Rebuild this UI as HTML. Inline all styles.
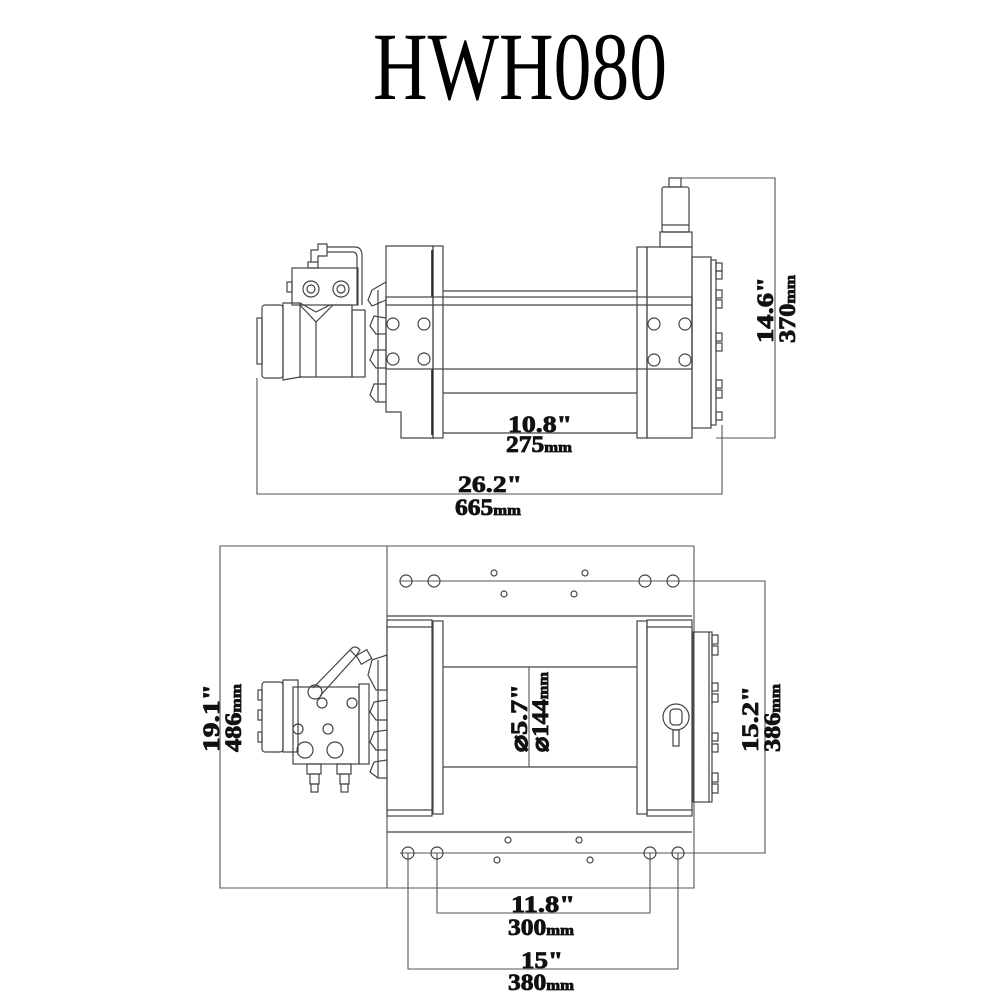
<!DOCTYPE html>
<html><head><meta charset="utf-8"><style>
html,body{margin:0;padding:0;background:#fff}
svg{display:block}
.l{fill:none;stroke:#444;stroke-width:1.2}
.t{stroke:#222;stroke-width:1.6;fill:none}
.d{fill:none;stroke:#555;stroke-width:1.1}
.b{font-family:"Liberation Serif",serif;font-weight:bold;fill:#111;stroke:#111;stroke-width:0.8}
</style></head><body>
<svg width="1000" height="1000" viewBox="0 0 1000 1000" xmlns="http://www.w3.org/2000/svg">
<text x="373" y="99" font-family="Liberation Serif,serif" font-size="96" textLength="294" lengthAdjust="spacingAndGlyphs" fill="#000">HWH080</text>

<!-- ===== TOP VIEW ===== -->
<g class="l">
<rect x="669" y="178" width="12" height="9"/>
<rect x="662" y="187" width="27" height="45" rx="2"/>
<line x1="662" y1="225" x2="689" y2="225"/>
<rect x="660" y="232" width="32" height="15"/>
<path d="M386 246 H433 V438 H401 V412 H386 Z"/>
<rect x="433" y="246" width="10" height="192"/>
<line x1="432" y1="250" x2="432" y2="297" class="t"/>
<line x1="432" y1="369" x2="432" y2="435" class="t"/>
<rect x="637" y="247" width="10" height="191"/>
<rect x="647" y="247" width="45" height="191"/>
<rect x="692" y="257" width="19" height="171"/>
<rect x="711" y="260" width="5" height="165"/>
<line x1="443" y1="291" x2="637" y2="291"/>
<line x1="443" y1="393" x2="637" y2="393"/>
<line x1="443" y1="433" x2="637" y2="433"/>
<rect x="386" y="297" width="306" height="72"/>
<line x1="386" y1="305" x2="692" y2="305"/>
<circle cx="393" cy="324" r="6"/><circle cx="424" cy="324" r="6"/>
<circle cx="393" cy="359" r="6"/><circle cx="424" cy="359" r="6"/>
<circle cx="654" cy="324" r="6"/><circle cx="685" cy="324" r="6"/>
<circle cx="654" cy="360" r="6"/><circle cx="685" cy="360" r="6"/>
<rect x="716" y="263" width="6" height="8"/><rect x="716" y="271" width="6" height="8"/>
<rect x="716" y="290" width="6" height="8"/><rect x="716" y="300" width="6" height="8"/>
<rect x="716" y="333" width="6" height="8"/><rect x="716" y="343" width="6" height="8"/>
<rect x="716" y="380" width="6" height="8"/><rect x="716" y="390" width="6" height="8"/>
<rect x="716" y="412" width="6" height="8"/>
<path d="M386 282 L372 290 L368 300 L372 306 L386 300"/>
<path d="M386 318 L374 316 L370 326 L376 334 L386 334"/>
<path d="M386 350 L374 350 L370 360 L376 368 L386 368"/>
<path d="M386 384 L374 384 L370 395 L376 402 L386 402"/>
<line x1="378" y1="290" x2="378" y2="402"/>
<rect x="262" y="305" width="21" height="73" rx="3"/>
<rect x="257" y="318" width="5" height="46"/>
<path d="M283 303 H300 L316 312 L330 305 H352 V377 H300 L283 380 Z"/>
<line x1="300" y1="303" x2="300" y2="378"/>
<path d="M300 305 L316 322 L333 305"/>
<line x1="316" y1="322" x2="316" y2="377"/>
<rect x="352" y="310" width="13" height="67"/>
<rect x="292" y="268" width="66" height="37"/>
<rect x="287" y="282" width="5" height="10"/>
<circle cx="311" cy="289" r="8"/><circle cx="311" cy="289" r="4"/>
<circle cx="341" cy="289" r="8"/><circle cx="341" cy="289" r="4"/>
<rect x="308" y="262" width="10" height="6"/>
<path d="M311 262 V250 H318 V244 H327 V256 H318 V262"/>
<path d="M327 247 H355 Q362 247 362 256 V305"/>
<path d="M327 252 H353 Q357 252 357 258 V305"/>
</g>
<g class="d">
<path d="M681 178 H775 V438 H716"/>
<path d="M257 378 V494 H722 V425"/>
</g>
<text class="b" x="508" y="432" font-size="23" textLength="64" lengthAdjust="spacingAndGlyphs">10.8"</text>
<text class="b" x="506" y="452" font-size="23" textLength="66" lengthAdjust="spacingAndGlyphs">275<tspan font-size="15">mm</tspan></text>
<text class="b" x="458" y="492" font-size="23" textLength="64" lengthAdjust="spacingAndGlyphs">26.2"</text>
<text class="b" x="455" y="515" font-size="23" textLength="66" lengthAdjust="spacingAndGlyphs">665<tspan font-size="15">mm</tspan></text>
<text class="b" font-size="23" transform="translate(773,343) rotate(-90)" textLength="66" lengthAdjust="spacingAndGlyphs">14.6"</text>
<text class="b" font-size="23" transform="translate(795,343) rotate(-90)" textLength="68" lengthAdjust="spacingAndGlyphs">370<tspan font-size="15">mm</tspan></text>

<!-- ===== BOTTOM VIEW ===== -->
<g class="d">
<path d="M220 546 H694 V888 H220 Z"/>
<line x1="387" y1="546" x2="387" y2="888"/>
<path d="M400 581 H765 V853 H400"/>
<path d="M408 853 V969 H678 V853"/>
<path d="M437 853 V913 H650 V853"/>
<line x1="529" y1="667" x2="529" y2="767"/>
</g>
<g class="l">
<line x1="387" y1="616" x2="692" y2="616"/>
<line x1="387" y1="832" x2="692" y2="832"/>
<circle cx="406" cy="581" r="6"/><circle cx="434" cy="581" r="6"/>
<circle cx="645" cy="581" r="6"/><circle cx="673" cy="581" r="6"/>
<circle cx="494" cy="573" r="3"/><circle cx="585" cy="573" r="3"/>
<circle cx="504" cy="594" r="3"/><circle cx="574" cy="594" r="3"/>
<circle cx="408" cy="853" r="6"/><circle cx="437" cy="853" r="6"/>
<circle cx="650" cy="853" r="6"/><circle cx="678" cy="853" r="6"/>
<circle cx="508" cy="840" r="3"/><circle cx="579" cy="840" r="3"/>
<circle cx="497" cy="860" r="3"/><circle cx="590" cy="860" r="3"/>
<rect x="387" y="620" width="45" height="196"/>
<line x1="387" y1="627" x2="432" y2="627"/>
<line x1="387" y1="810" x2="432" y2="810"/>
<rect x="433" y="621" width="10" height="193"/>
<rect x="637" y="621" width="10" height="193"/>
<rect x="647" y="620" width="45" height="196"/>
<line x1="647" y1="627" x2="692" y2="627"/>
<line x1="647" y1="810" x2="692" y2="810"/>
<line x1="443" y1="667" x2="637" y2="667"/>
<line x1="443" y1="767" x2="637" y2="767"/>
<rect x="693" y="632" width="19" height="170"/>
<line x1="709" y1="632" x2="709" y2="802"/>
<rect x="712" y="635" width="6" height="9"/><rect x="712" y="646" width="6" height="9"/>
<rect x="712" y="683" width="6" height="8"/><rect x="712" y="694" width="6" height="8"/>
<rect x="712" y="733" width="6" height="8"/><rect x="712" y="744" width="6" height="8"/>
<rect x="712" y="773" width="6" height="9"/><rect x="712" y="784" width="6" height="9"/>
<circle cx="676" cy="717" r="13"/><rect x="670" y="709" width="12" height="16" rx="4"/>
<rect x="673" y="730" width="6" height="16"/>
<path d="M387 655 L372 660 L368 675 L376 690 L387 690 L387 655"/>
<path d="M387 700 L374 702 L370 712 L376 720 L387 720"/>
<path d="M387 730 L374 732 L370 742 L376 750 L387 750"/>
<path d="M387 760 L374 762 L370 772 L378 778 L387 778"/>
<line x1="378" y1="660" x2="378" y2="778"/>
<rect x="262" y="682" width="21" height="70" rx="3"/>
<rect x="258" y="690" width="4" height="10"/><rect x="258" y="710" width="4" height="10"/><rect x="258" y="732" width="4" height="10"/>
<rect x="283" y="680" width="15" height="72"/>
<rect x="293" y="687" width="66" height="77"/>
<rect x="359" y="684" width="10" height="80"/>
<circle cx="322" cy="703" r="5"/><circle cx="352" cy="703" r="5"/>
<circle cx="298" cy="729" r="5"/><circle cx="328" cy="729" r="5"/>
<circle cx="305" cy="750" r="8"/><circle cx="335" cy="750" r="8"/>
<rect x="307" y="764" width="14" height="10"/><rect x="310" y="774" width="9" height="10"/><rect x="311" y="784" width="7" height="8"/>
<rect x="337" y="764" width="14" height="10"/><rect x="340" y="774" width="9" height="10"/><rect x="341" y="784" width="7" height="8"/>
<circle cx="315" cy="692" r="7"/>
<path d="M313 688 L350 650 L356 656 L320 696"/>
<path d="M350 650 Q355 644 360 650 L356 656"/>
<rect x="358" y="652" width="12" height="10" transform="rotate(-30 364 657)"/>
</g>
<text class="b" font-size="23" transform="translate(219,752) rotate(-90)" textLength="68" lengthAdjust="spacingAndGlyphs">19.1"</text>
<text class="b" font-size="23" transform="translate(241,752) rotate(-90)" textLength="68" lengthAdjust="spacingAndGlyphs">486<tspan font-size="15">mm</tspan></text>
<text class="b" font-size="23" transform="translate(758,752) rotate(-90)" textLength="66" lengthAdjust="spacingAndGlyphs">15.2"</text>
<text class="b" font-size="23" transform="translate(780,752) rotate(-90)" textLength="68" lengthAdjust="spacingAndGlyphs">386<tspan font-size="15">mm</tspan></text>
<text class="b" font-size="23" transform="translate(527,752) rotate(-90)" textLength="68" lengthAdjust="spacingAndGlyphs">⌀5.7"</text>
<text class="b" font-size="23" transform="translate(548,752) rotate(-90)" textLength="80" lengthAdjust="spacingAndGlyphs">⌀144<tspan font-size="15">mm</tspan></text>
<text class="b" x="511" y="912" font-size="23" textLength="64" lengthAdjust="spacingAndGlyphs">11.8"</text>
<text class="b" x="508" y="935" font-size="23" textLength="66" lengthAdjust="spacingAndGlyphs">300<tspan font-size="15">mm</tspan></text>
<text class="b" x="521" y="968" font-size="23" textLength="42" lengthAdjust="spacingAndGlyphs">15"</text>
<text class="b" x="508" y="990" font-size="23" textLength="66" lengthAdjust="spacingAndGlyphs">380<tspan font-size="15">mm</tspan></text>
</svg>
</body></html>
